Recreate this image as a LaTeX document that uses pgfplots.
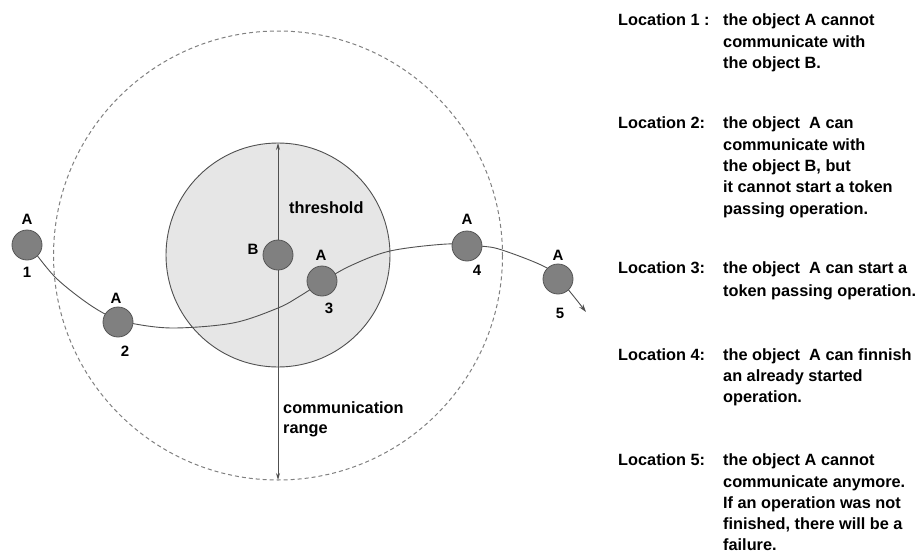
\documentclass[border=0pt]{standalone}
\usepackage{fontspec}
\setmainfont{Liberation Sans}
\usepackage{pgfplots}
\pgfplotsset{compat=1.18}
\usetikzlibrary{arrows.meta}
\definecolor{dotgray}{RGB}{128,128,128}
\definecolor{dotedge}{RGB}{85,85,85}
\definecolor{inner}{RGB}{230,230,230}
\definecolor{linegray}{RGB}{80,80,80}
\tikzset{
  txt/.style={font=\bfseries\fontsize{16.3}{19}\selectfont, inner sep=0pt, anchor=base west},
  lbl/.style={font=\bfseries\fontsize{15}{17}\selectfont, inner sep=0pt}
}
\begin{document}
\begin{tikzpicture}
\begin{axis}[
  width=924pt, height=552pt, scale only axis,
  xmin=0, xmax=924, ymin=0, ymax=552, y dir=reverse,
  hide axis, clip=false]
% fix bounding box to the full frame
\path[use as bounding box] (axis cs:0,0) rectangle (axis cs:924,552);
% communication range (dashed) and threshold (gray)
\draw[color=dotgray, line width=1pt, dash pattern=on 4pt off 3pt] (axis cs:278,255.5) ellipse [x radius=224.5, y radius=224.5];
\draw[fill=inner, draw=linegray, line width=0.9pt] (axis cs:278,255) ellipse [x radius=112, y radius=112];
% object B
\addplot[only marks, mark=*, mark size=15pt, mark options={fill=dotgray, draw=dotedge, line width=0.8pt}] coordinates {(278,255)};
% vertical arrows
\addplot[-{Stealth[length=7pt,width=4pt]}, color=linegray, line width=0.9pt] coordinates {(278,255) (278,143)};
\addplot[-{Stealth[length=7pt,width=4pt]}, color=linegray, line width=0.9pt] coordinates {(278,255) (278,480)};
\addplot[-{Stealth[length=6pt,width=4pt]}, color=black, line width=0.6pt] coordinates {(278,242) (278,251)};
\addplot[-{Stealth[length=6pt,width=4pt]}, color=black, line width=0.6pt] coordinates {(278,268) (278,259)};
% object A positions
\addplot[only marks, mark=*, mark size=15pt, mark options={fill=dotgray, draw=dotedge, line width=0.8pt}]
  coordinates {(27,245) (118,322) (322,281) (467,246) (558,279)};
% trajectory
\addplot[smooth, tension=0.55, color=linegray, line width=0.9pt, -{Stealth[length=8pt,width=5pt]}]
  coordinates {(33,250) (55,277) (83,300) (107,315) (130,323) (173,328) (233,323) (278,308) (300,296) (322,282) (350,266) (390,251) (447,244) (480,246) (502,250) (547,268) (566,287) (586,312)};
% labels on diagram
\node[lbl] at (axis cs:27,219) {A};
\node[lbl] at (axis cs:27,272) {1};
\node[lbl] at (axis cs:116,298) {A};
\node[lbl] at (axis cs:125,351) {2};
\node[lbl] at (axis cs:321,255) {A};
\node[lbl] at (axis cs:329,308) {3};
\node[lbl] at (axis cs:467,219) {A};
\node[lbl] at (axis cs:477,270) {4};
\node[lbl] at (axis cs:558,255) {A};
\node[lbl] at (axis cs:560,313) {5};
\node[lbl] at (axis cs:253,249) {B};
\node[txt] at (axis cs:289,213) {threshold};
\node[txt] at (axis cs:283,413) {communication};
\node[txt] at (axis cs:283,433) {range};
% right-hand text
\node[txt] at (axis cs:618,25) {Location 1 :};
\node[txt] at (axis cs:723,25) {the object A cannot};
\node[txt] at (axis cs:723,47) {communicate with};
\node[txt] at (axis cs:723,68) {the object B.};
\node[txt] at (axis cs:618,128.5) {Location 2:};
\node[txt] at (axis cs:723,128.5) {the object\ \ A can};
\node[txt] at (axis cs:723,150) {communicate with};
\node[txt] at (axis cs:723,171.5) {the object B, but};
\node[txt] at (axis cs:723,192.5) {it cannot start a token};
\node[txt] at (axis cs:723,214) {passing operation.};
\node[txt] at (axis cs:618,273) {Location 3:};
\node[txt] at (axis cs:723,273) {the object\ \ A can start a};
\node[txt] at (axis cs:723,296) {token passing operation.};
\node[txt] at (axis cs:618,360.5) {Location 4:};
\node[txt] at (axis cs:723,360.5) {the object\ \ A can finnish};
\node[txt] at (axis cs:723,381.5) {an already started};
\node[txt] at (axis cs:723,402.5) {operation.};
\node[txt] at (axis cs:618,465.5) {Location 5:};
\node[txt] at (axis cs:723,465.5) {the object A cannot};
\node[txt] at (axis cs:723,487) {communicate anymore.};
\node[txt] at (axis cs:723,508) {If an operation was not};
\node[txt] at (axis cs:723,529) {finished, there will be a};
\node[txt] at (axis cs:723,550) {failure.};
\end{axis}
\end{tikzpicture}
\end{document}
